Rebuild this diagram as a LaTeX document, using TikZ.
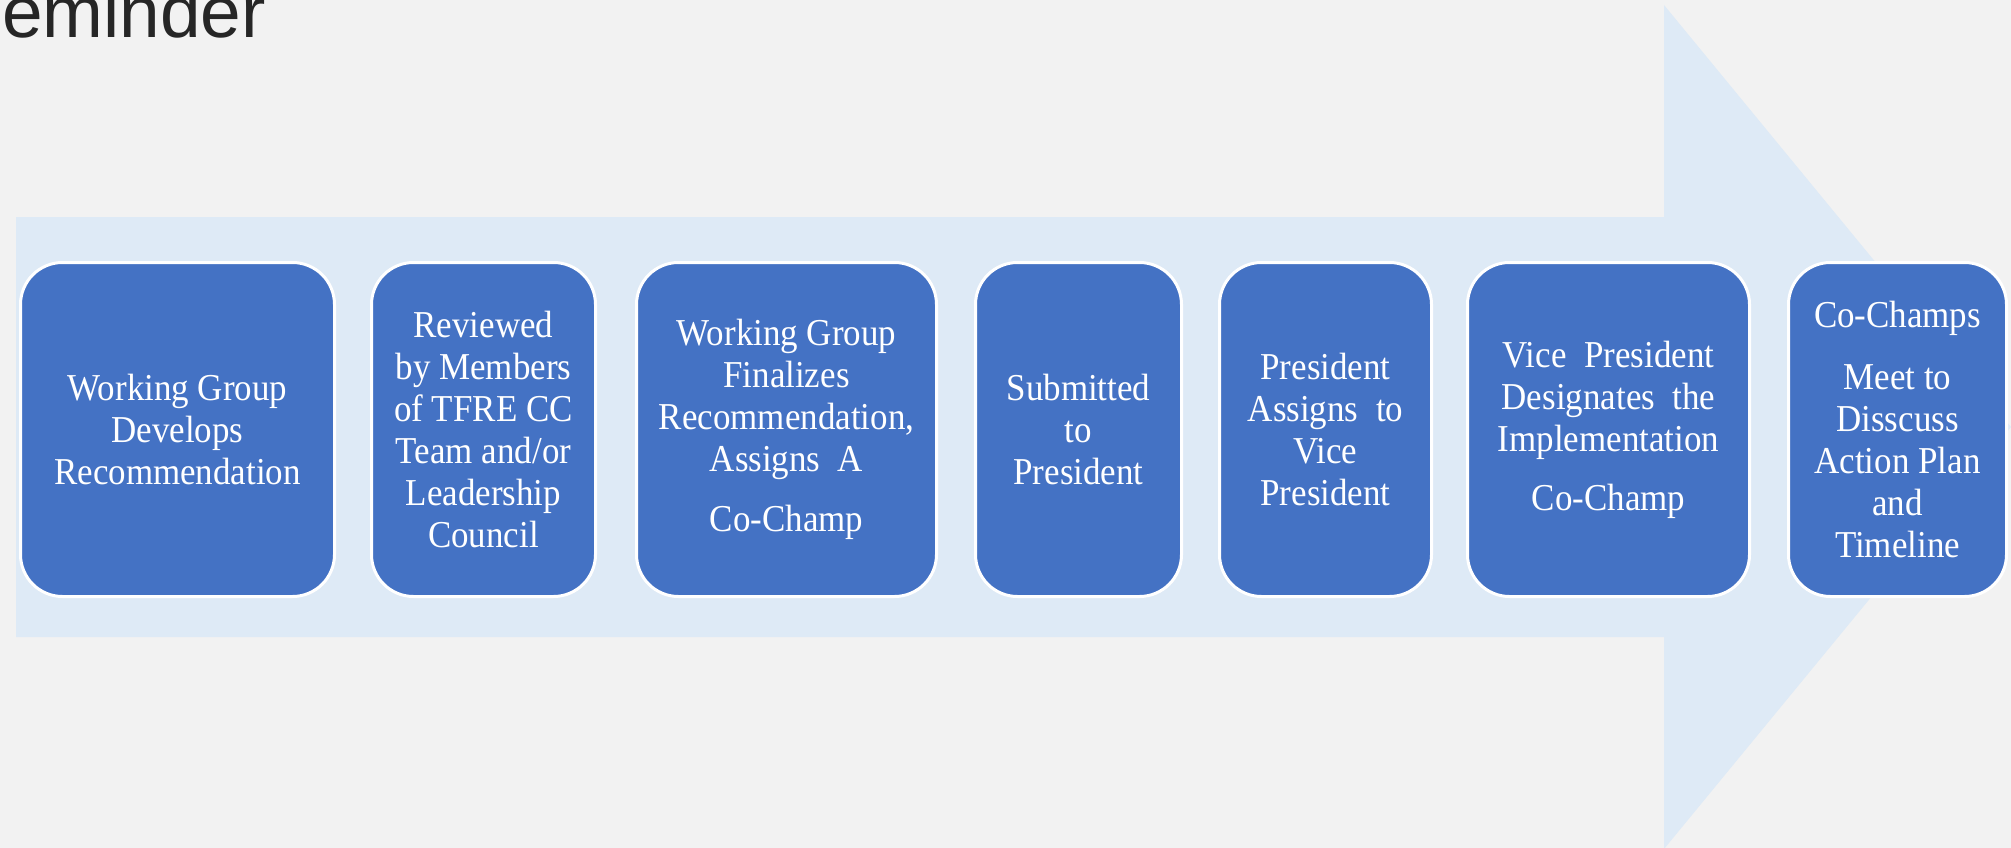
\documentclass[tikz,border=0pt]{standalone}
\usepackage{fontspec}
\newfontfamily\boxfont{Liberation Serif}[FakeStretch=0.92]
\newfontfamily\titlefont{Liberation Sans}
\definecolor{bgcol}{HTML}{F2F2F2}
\definecolor{arrowcol}{HTML}{DEEAF6}
\definecolor{boxcol}{HTML}{4472C4}
\definecolor{titlecol}{HTML}{262626}
\tikzset{
  stepbox/.style={draw=white, line width=3pt, fill=boxcol, rounded corners=42pt,
    minimum height=334pt, inner sep=0pt, text=white, align=center,
    font=\boxfont\fontsize{38}{42}\selectfont},
}
\begin{document}
\begin{tikzpicture}[x=1pt,y=-1pt]
\clip (0,0) rectangle (2011,848);
\fill[bgcol] (0,0) rectangle (2011,848);
% big background arrow
\fill[arrowcol] (16,217) -- (1664,217) -- (1664,5) -- (2011,427) -- (1664,849) -- (1664,637) -- (16,637) -- cycle;
% title
\node[anchor=base east, inner sep=0pt, text=titlecol, font=\titlefont\fontsize{73}{80}\selectfont] (title) at (266,38) {Reminder};
% steps
\node[stepbox, minimum width=314pt] (s1) at (177.5,429.5) {Working Group\\Develops\\Recommendation};
\node[stepbox, minimum width=224pt] (s2) at (483.5,429.5) {Reviewed\\by Members\\of TFRE CC\\Team and/or\\Leadership\\Council};
\node[stepbox, minimum width=300pt] (s3) at (786.5,429.5) {Working Group\\Finalizes\\Recommendation,\\Assigns\ \ A\\[18pt]Co-Champ};
\node[stepbox, minimum width=206pt] (s4) at (1078.5,429.5) {Submitted\\to\\President};
\node[stepbox, minimum width=212pt] (s5) at (1325.5,429.5) {President\\Assigns\ \ to\\Vice\\President};
\node[stepbox, minimum width=282pt] (s6) at (1608.5,429.5) {Vice\ \ President\\Designates\ \ the\\Implementation\\[17pt]Co-Champ};
\node[stepbox, minimum width=218pt] (s7) at (1897.5,429.5) {Co-Champs\\[20pt]Meet to\\Disscuss\\Action Plan\\and\\Timeline};
\end{tikzpicture}
\end{document}
